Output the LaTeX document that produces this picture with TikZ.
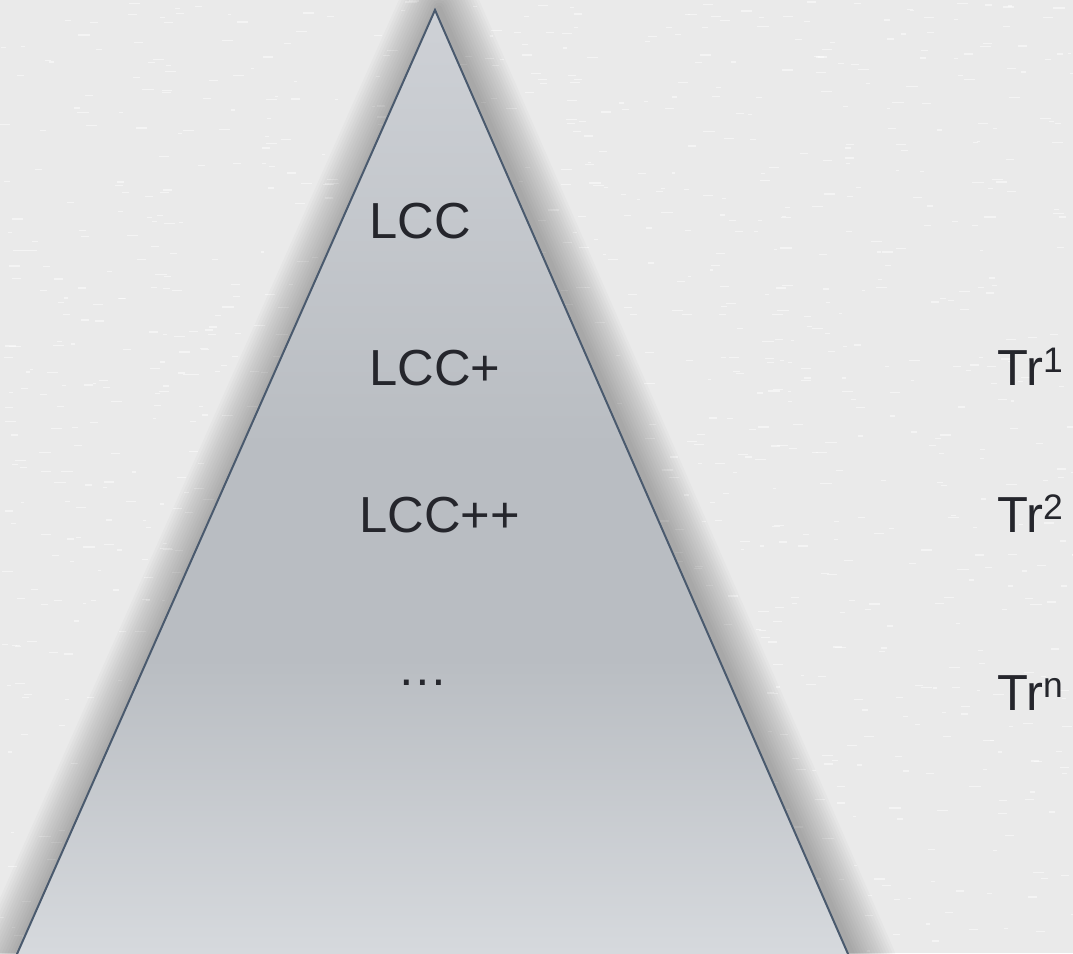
\documentclass[tikz,border=0pt]{standalone}
\usepackage{fontspec}
\setmainfont{Liberation Sans}
\definecolor{paper}{HTML}{EAEAEA}
\definecolor{edgeblue}{HTML}{4A5A6E}
\definecolor{ink}{HTML}{25262C}
\definecolor{pyrtop}{HTML}{CED1D6}
\definecolor{pyrmid}{HTML}{B9BDC2}
\definecolor{pyrbot}{HTML}{D7DADE}
\pgfdeclareverticalshading{pyrshade}{100bp}{color(0bp)=(pyrbot); color(25bp)=(pyrbot);
  color(41bp)=(pyrmid); color(52bp)=(pyrmid); color(75bp)=(pyrtop); color(100bp)=(pyrtop)}

\begin{document}
\begin{tikzpicture}[x=0.75pt,y=-0.75pt,
  pyramid/.style={draw=edgeblue,line width=1.5pt,line join=miter,shading=pyrshade},
  halo/.style={draw=black,draw opacity=0.02,line join=round},
  lvl/.style={font=\fontsize{38}{44}\selectfont,text=ink,inner sep=0pt,anchor=base west}]
  \useasboundingbox (0,0) rectangle (1073,953); % Bildgrenzen
  \fill[paper] (0,0) rectangle (1073,953); % Papierhintergrund
  \pgfmathsetseed{7}
  \foreach \i in {1,...,1400}{
    \pgfmathsetmacro{\px}{rnd*1073}
    \pgfmathsetmacro{\py}{rnd*953}
    \pgfmathsetmacro{\pl}{3+rnd*9}
    \draw[white,opacity=0.5,line width=0.9pt] (\px,\py) -- ++(\pl,0); % Papierstruktur
  }
  \begin{scope}
    \clip (0,0) rectangle (1073,953);
    \foreach \w in {4,8,...,60}
      \draw[halo,line width=\w pt] (439,8) -- (857,965) -- (14,965) -- cycle; % weicher Schatten
    \draw[pyramid] (435,10) -- (852,963) -- (13,963) -- cycle; % Pyramide
  \end{scope}
  \node[lvl] (lcc) at (369,238) {LCC}; % Stufen in der Pyramide
  \node[lvl] (lccp) at (369,385) {LCC+};
  \node[lvl] (lccpp) at (359,532) {LCC++};
  \node[lvl,anchor=base] (more) at (423,685) {…};
  \node[lvl] (tr1) at (997,385) {Tr\textsuperscript{1}}; % Stufen rechts
  \node[lvl] (tr2) at (997,532) {Tr\textsuperscript{2}};
  \node[lvl] (trn) at (997,710) {Tr\textsuperscript{n}};
\end{tikzpicture}
\end{document}
